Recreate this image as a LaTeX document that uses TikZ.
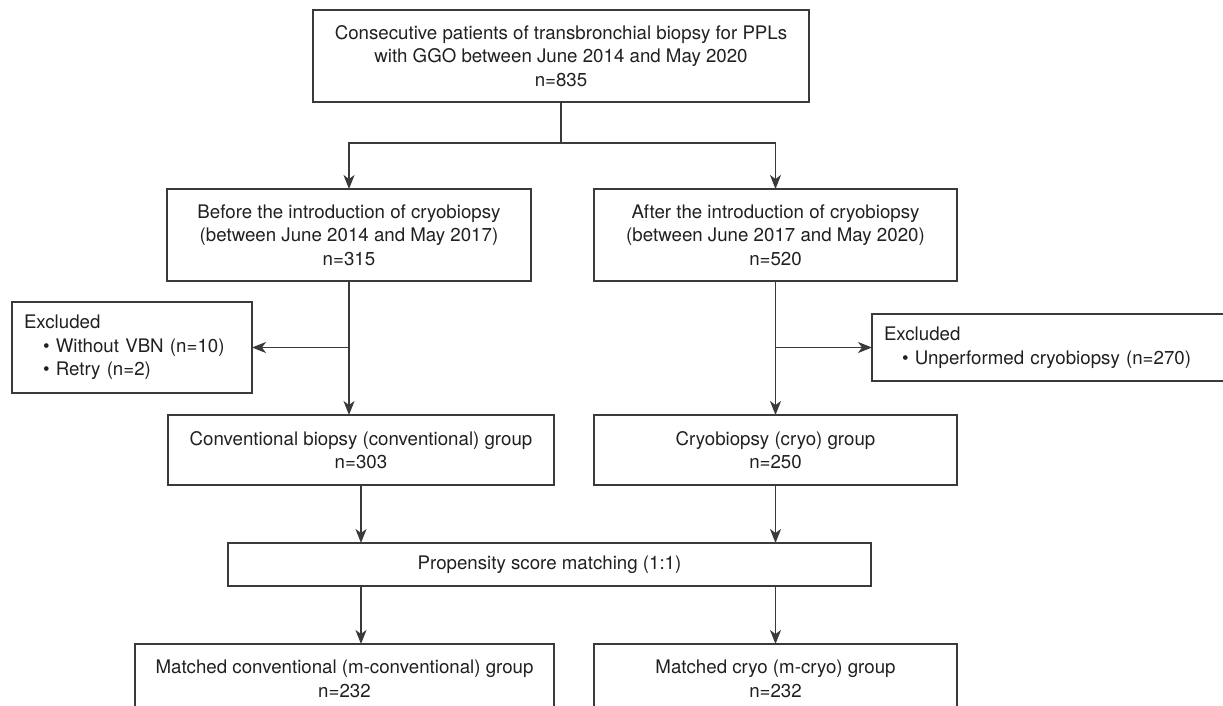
\documentclass[tikz,border=0pt]{standalone}
\usepackage{fontspec}
\setmainfont{TeX Gyre Heros}
\usetikzlibrary{arrows.meta}
\definecolor{linegray}{HTML}{3A3A3A}
\definecolor{inkgray}{HTML}{231F20}
\tikzset{
  box/.style={draw=linegray, line width=1.5pt, inner sep=0pt, outer sep=0pt,
    align=center, text=inkgray},
  exclbox/.style={box, align=left, inner xsep=12pt, inner ysep=0pt},
  arr/.style={draw=linegray, line width=1.5pt,
    -{Stealth[length=14pt, width=11pt, inset=4pt]}}
}
\begin{document}
\begin{tikzpicture}[x=1pt, y=-1pt, font=\fontsize{18.7}{23.5}\selectfont]
  \useasboundingbox (0,0) rectangle (1223,706);
  \clip (0,0) rectangle (1223,706);
  % las cajas
  \node[box, minimum width=496pt, minimum height=92pt] (top) at (561,56)
    {Consecutive patients of transbronchial biopsy for PPLs\\with GGO between June 2014 and May 2020\\n=835};
  \node[box, minimum width=364pt, minimum height=92pt] (before) at (349,235)
    {Before the introduction of cryobiopsy\\(between June 2014 and May 2017)\\n=315};
  \node[box, minimum width=363pt, minimum height=92pt] (after) at (775.5,235)
    {After the introduction of cryobiopsy\\(between June 2017 and May 2020)\\n=520};
  \node[exclbox, text width=216pt, minimum height=91pt] (exclL) at (132,347.5)
    {Excluded\\\hspace*{19pt}\textbullet\ Without VBN (n=10)\\\hspace*{19pt}\textbullet\ Retry (n=2)};
  \node[exclbox, text width=334pt, minimum height=67pt] (exclR) at (1051,347.5)
    {Excluded\\\hspace*{18pt}\textbullet\ Unperformed cryobiopsy (n=270)};
  \node[box, minimum width=386pt, minimum height=70pt] (conv) at (361,450)
    {Conventional biopsy (conventional) group\\n=303};
  \node[box, minimum width=363pt, minimum height=70pt] (cryo) at (775.5,450)
    {Cryobiopsy (cryo) group\\n=250};
  \node[box, minimum width=643pt, minimum height=43pt] (psm) at (549.5,564.5)
    {Propensity score matching (1:1)};
  \node[box, minimum width=419pt, minimum height=70pt] (mconv) at (344.5,679)
    {Matched conventional (m-conventional) group\\n=232};
  \node[box, minimum width=363pt, minimum height=70pt] (mcryo) at (775.5,679)
    {Matched cryo (m-cryo) group\\n=232};
  % las flechas
  \coordinate (split) at (561,143);
  \draw[arr] (top.south) -- (split) -| (before.north);
  \draw[arr] (split) -| (after.north);
  \draw[arr] (before.south) -- (before.south |- conv.north);
  \draw[arr] (before.south |- exclL.east) -- (exclL.east);
  \draw[arr] (after.south) -- (cryo.north);
  \draw[arr] (after.south |- exclR.west) -- (exclR.west);
  \draw[arr] (conv.south) -- (conv.south |- psm.north);
  \draw[arr] (conv.south |- psm.south) -- (conv.south |- mconv.north);
  \draw[arr] (cryo.south) -- (cryo.south |- psm.north);
  \draw[arr] (cryo.south |- psm.south) -- (mcryo.north);
\end{tikzpicture}
\end{document}
